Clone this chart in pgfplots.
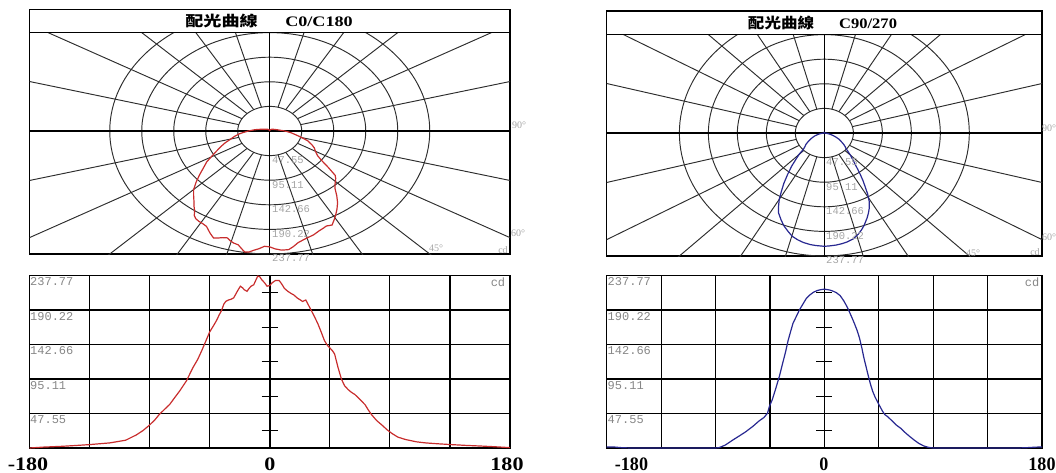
\documentclass[border=0pt]{standalone}
\usepackage{fontspec}
\setmainfont{Liberation Serif}
\setmonofont{Liberation Mono}
\newfontfamily\cjk{Noto Sans CJK TC}
\usepackage{graphicx}
\usepackage{pgfplots}
\usepackage{pgfplotstable}
\pgfplotsset{compat=1.18}

\definecolor{redc}{RGB}{200,45,45}
\definecolor{bluec}{RGB}{40,40,145}
\definecolor{gridc}{RGB}{45,45,45}
\definecolor{labc}{RGB}{135,135,135}
\definecolor{labl}{RGB}{165,165,165}

\pgfplotstableread{
a I
-180 0
-170 1.2
-156 2.3
-145 3.5
-135 4.7
-120 7
-108 10.7
-100 18
-95 24
-90 31.7
-86 39
-83 45.7
-79 53
-75 60
-71 70
-67.6 78.3
-62.5 92.3
-57.5 111
-54 122
-51 134
-48 147
-45 160
-42 169
-39.8 176
-38 183
-36 190
-34.5 198
-33 202
-31 204
-29 205
-27 207
-25.5 212
-24 217
-22 223
-20.5 221
-19 218
-17 216
-15.5 220
-14 223
-12 225
-10.5 231
-9 237
-7.5 236
-6 232
-4 228
-2 223
0 224
2 228
4.4 231
7 231
9 226
11 220
13.5 216
16 213
18 211
20.8 206.5
23 204
24.6 202
27 204
29 197
31 190
33.5 181
36 171.5
38.5 160
41 148
43 142
45 138
47 134
48.6 129.6
51 112
53.7 95
56 86
58.7 80.6
61 77
63.8 73.7
67 68
71.4 59.7
74 52
76.4 45.7
80 38
84 31.7
88 25
91.6 20
96 15
101.7 11.7
110 8.5
117 7
126 5.8
136 4.7
147 3.6
157 2.8
168 1.8
180 0.5
}\redtab

\pgfplotstableread{
a I
-180 1.4
-174 1.4
-168 0.5
-160 0
-120 0
-90 0
-87 0.5
-82 4
-76 10.7
-70 17
-65 22.4
-59 30
-54 37.3
-50 42
-47 48
-45.5 57
-43 67
-40 83
-37 100
-34.3 118
-32 133
-30 148
-28 160
-26 171.6
-23 182
-20.4 191
-17.5 199
-14.8 206.5
-12 211
-9.2 214.5
-6 217
-3.6 218
0 219
2 218.5
5 217.5
7.5 216
10 214
13.1 210
16 203
18 197
20.1 190
23 179
25 171
27.1 162
29 152
31 138
32.6 125
34.5 112
36.4 99
38.2 87.6
40 78
42 70
45.2 59.7
48 51
50 46
52.2 43.4
55 39
58 34
60 31
63.3 27
67 21
70.5 16
74.5 10.7
78 6.5
82 3
85.7 1
90 0
120 0
160 0
168 0.5
175 1.2
180 1.4
}\bluetab

\pgfplotsset{
  polarbase/.style={scale only axis, height=221.5bp,
    xmin=-357, xmax=357, ymin=-237.77, ymax=190.4,
    axis line style={line width=1.3bp, black}, ticks=none, clip=true},
  cartbase/.style={scale only axis, height=172.5bp,
    xmin=-180, xmax=180, ymin=0, ymax=237.77,
    xtick={-180,-135,...,180},
    ytick={0,47.554,95.108,142.662,190.216,237.77},
    xticklabels={}, yticklabels={}, major tick length=0pt,
    grid=major, major grid style={line width=1.15bp, black},
    axis line style={line width=1.3bp, black}, clip=true},
}

\newcommand{\polargrid}{%
  \pgfplotsinvokeforeach{1,2,3,4,5}{%
    \addplot[gridc, line width=0.95bp, domain=0:360, samples=145, forget plot]
      ({47.554*##1*cos(x)},{47.554*##1*sin(x)});
  }%
  \pgfplotsinvokeforeach{15,30,45,60,75,105,120,135,150,165,-15,-30,-45,-60,-75,-105,-120,-135,-150,-165}{%
    \draw[gridc, line width=0.95bp] (axis cs:{47.554*sin(##1)},{-47.554*cos(##1)}) -- (axis cs:{900*sin(##1)},{-900*cos(##1)});
  }%
  \draw[black, line width=1.3bp] (axis cs:-400,0) -- (axis cs:400,0);
  \draw[black, line width=1.3bp] (axis cs:0,-250) -- (axis cs:0,200);
}
\newcommand{\centerticks}[1]{%
  \pgfplotsinvokeforeach{23.777,71.331,118.885,166.439,213.993}{%
    \draw[black, line width=1.1bp] (axis cs:-#1,##1) -- (axis cs:#1,##1);
  }%
  \draw[black, line width=1.5bp] (axis cs:0,0) -- (axis cs:0,237.77);
}

\newcommand{\tlab}{\ttfamily\fontsize{12bp}{12bp}\selectfont\color{labc}}
\newcommand{\plab}{\ttfamily\fontsize{10.5bp}{10.5bp}\selectfont\color{labl}}
\newcommand{\alab}{\rmfamily\fontsize{10bp}{10bp}\selectfont\color{labl}}

\begin{document}
\begin{tikzpicture}
\path[use as bounding box] (0,0) rectangle (1056bp,-473bp);

% ---------- left polar ----------
\begin{axis}[polarbase, width=480.5bp, at={(29.5bp,-254bp)}, anchor=south west]
  \polargrid
  \addplot[redc, line width=1.2bp] table[x expr={\thisrow{I}*sin(\thisrow{a})}, y expr={-\thisrow{I}*cos(\thisrow{a})}] {\redtab};
\end{axis}

% ---------- left cartesian ----------
\begin{axis}[cartbase, width=480.5bp, at={(29.5bp,-448bp)}, anchor=south west]
  \centerticks{6}
  \addplot[redc, line width=1.2bp] table[x=a, y=I] {\redtab};
\end{axis}

% ---------- right polar ----------
\begin{axis}[polarbase, width=435.3bp, at={(606.7bp,-256bp)}, anchor=south west]
  \polargrid
  \addplot[bluec, line width=1.2bp] table[x expr={\thisrow{I}*sin(\thisrow{a})}, y expr={-\thisrow{I}*cos(\thisrow{a})}] {\bluetab};
\end{axis}

% ---------- right cartesian ----------
\begin{axis}[cartbase, width=435.3bp, at={(606.7bp,-448bp)}, anchor=south west]
  \centerticks{6.6}
  \addplot[bluec, line width=1.2bp] table[x=a, y=I] {\bluetab};
\end{axis}

\begin{scope}[x=1bp, y=-1bp]
  % title bands
  \draw[line width=1.3bp] (29.5,9.5) rectangle (510,32.5);
  \draw[line width=1.3bp] (606.7,11) rectangle (1042,34.5);
  \node[inner sep=0] at (269,21) {\scalebox{1.25}[1]{\bfseries\fontsize{14.5bp}{14.5bp}\selectfont{\cjk 配光曲線}\hspace{22bp}C0/C180}};
  \node[inner sep=0] at (822.5,22.5) {\scalebox{1.14}[1]{\bfseries\fontsize{14.5bp}{14.5bp}\selectfont{\cjk 配光曲線}\hspace{22bp}C90/270}};

  % polar ring labels
  \foreach \y/\t in {160.5/47.55,185.5/95.11,209/142.66,234/190.22,258.5/237.77}{
    \node[anchor=west, inner sep=0] at (272,\y) {\plab \t};
    \node[anchor=west, inner sep=0] at (826,\y+2) {\plab \t};
  }
  % angle labels
  \node[inner sep=0] at (519,125) {\alab 90°};
  \node[inner sep=0] at (518,233.5) {\alab 60°};
  \node[inner sep=0] at (436,248) {\alab 45°};
  \node[inner sep=0] at (503,250) {\alab cd};
  \node[inner sep=0] at (1049,128) {\alab 90°};
  \node[inner sep=0] at (1049,237) {\alab 60°};
  \node[inner sep=0] at (973,253) {\alab 45°};
  \node[inner sep=0] at (1035,252) {\alab cd};

  % cartesian y labels
  \foreach \y/\t in {282/237.77,316.5/190.22,351/142.66,385.5/95.11,420/47.55}{
    \node[anchor=west, inner sep=0] at (30,\y) {\tlab \t};
    \node[anchor=west, inner sep=0] at (607.5,\y) {\tlab \t};
  }
  \node[inner sep=0] at (498,282) {\tlab cd};
  \node[inner sep=0] at (1032,282) {\tlab cd};

  % x tick labels
  \node[inner sep=0] at (28,464) {\scalebox{1.16}[1]{\bfseries\fontsize{19bp}{19bp}\selectfont -180}};
  \node[inner sep=0] at (270,464) {\scalebox{1.16}[1]{\bfseries\fontsize{19bp}{19bp}\selectfont 0}};
  \node[inner sep=0] at (507,464) {\scalebox{1.16}[1]{\bfseries\fontsize{19bp}{19bp}\selectfont 180}};
  \node[inner sep=0] at (631.5,464) {\scalebox{0.95}[1]{\bfseries\fontsize{19bp}{19bp}\selectfont -180}};
  \node[inner sep=0] at (824,464) {\scalebox{0.95}[1]{\bfseries\fontsize{19bp}{19bp}\selectfont 0}};
  \node[inner sep=0] at (1042,464) {\scalebox{0.95}[1]{\bfseries\fontsize{19bp}{19bp}\selectfont 180}};
\end{scope}
\end{tikzpicture}
\end{document}
